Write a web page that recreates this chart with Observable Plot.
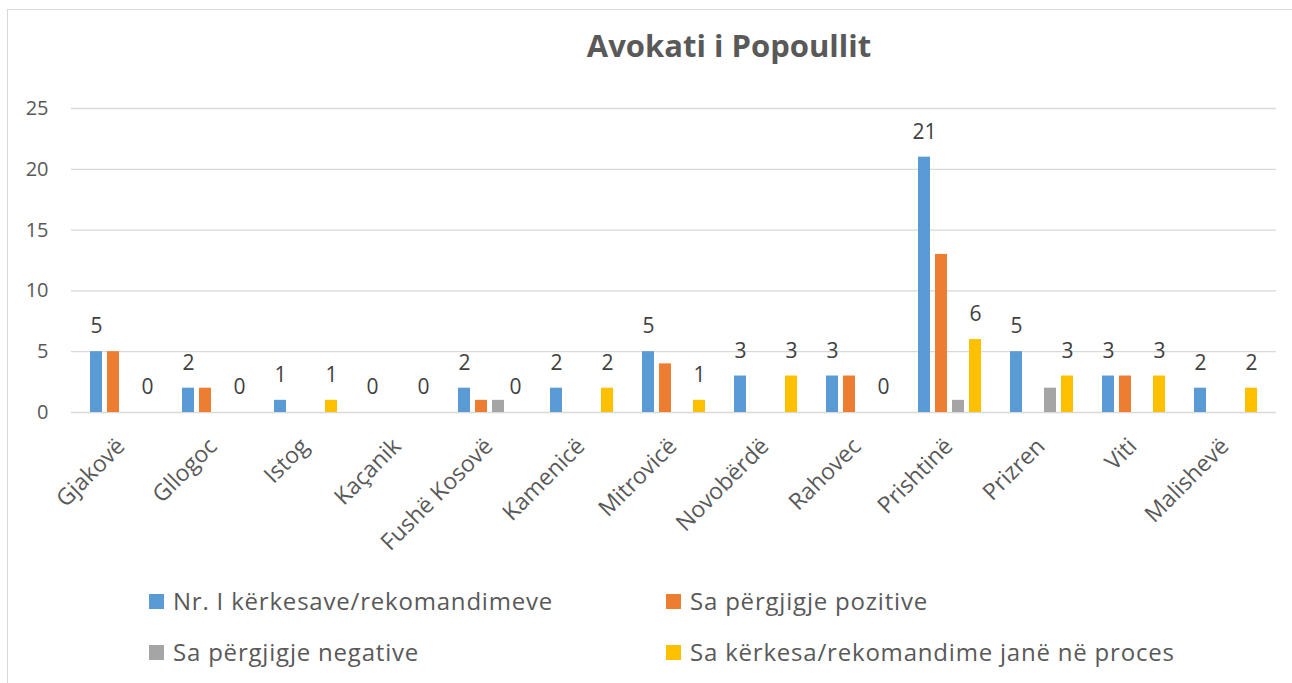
<!DOCTYPE html>
<html>
<head>
<meta charset="utf-8">
<script src="https://cdn.jsdelivr.net/npm/d3@7"></script>
<script src="https://cdn.jsdelivr.net/npm/@observablehq/plot@0.6"></script>
<style>
  html, body { margin: 0; padding: 0; background: #fff; overflow: hidden; }
  #wrap { position: relative; width: 1292px; height: 683px; overflow: hidden; font-family: "Open Sans", sans-serif; color: #595959; }
  #frame { position: absolute; left: 7px; top: 9px; width: 1400px; height: 800px; border: 1.5px solid #d9d9d9; box-sizing: border-box; }
  #title { position: absolute; left: 479px; width: 500px; top: 24px; text-align: center; font-size: 31px; font-weight: 700; line-height: 42px; color: #595959; }
  #chart { position: absolute; left: 0; top: 0; }
  .leg { position: absolute; display: flex; align-items: center; font-size: 24px; letter-spacing: 0.8px; line-height: 30px; color: #595959; white-space: nowrap; }
  .leg span.sw { display: inline-block; width: 15px; height: 15px; margin-right: 9px; }
</style>
</head>
<body>
<div id="wrap">
  <div id="frame"></div>
  <div id="chart"></div>
  <div id="title">Avokati i Popoullit</div>
  <div id="legend"></div>
</div>
<script>
const categories = ["Gjakovë", "Gllogoc", "Istog", "Kaçanik", "Fushë Kosovë", "Kamenicë", "Mitrovicë", "Novobërdë", "Rahovec", "Prishtinë", "Prizren", "Viti", "Malishevë"];
const seriesNames = ["Nr. I kërkesave/rekomandimeve", "Sa përgjigje pozitive", "Sa përgjigje negative", "Sa kërkesa/rekomandime janë në proces"];
const seriesColors = ["#5B9BD5", "#ED7D31", "#A5A5A5", "#FFC000"];
const requests  = [5, 2, 1, 0, 2, 2, 5, 3, 3, 21, 5, 3, 2];
const positive  = [5, 2, 0, 0, 1, 0, 4, 0, 3, 13, 0, 3, 0];
const negative  = [0, 0, 0, 0, 1, 0, 0, 0, 0, 1, 2, 0, 0];
const inProcess = [0, 0, 1, 0, 0, 2, 1, 3, 0, 6, 3, 3, 2];
const yTicks = [0, 5, 10, 15, 20, 25];
const labeledSeries = [0, 3]; // data labels shown on first and last series

const seriesValues = [requests, positive, negative, inProcess];
const rows = [];
seriesValues.forEach((vals, si) => {
  vals.forEach((v, ci) => rows.push({city: categories[ci], series: seriesNames[si], si, value: v}));
});

const W = 1292, H = 560;
const mL = 71, mR = 16, mT = 108, mB = 148;
const groupW = 68, barStep = 17, barW = 13, pad0 = (barStep - barW) / 2;
const stepX = (W - mL - mR) / categories.length;
const pInner = 1 - groupW / stepX;

const marks = [
  Plot.ruleY(yTicks, {stroke: "#d9d9d9", strokeWidth: 1.3})
];
seriesNames.forEach((name, si) => {
  marks.push(Plot.barY(rows.filter(d => d.si === si && d.value > 0), {
    x: "city", y: "value", fill: seriesColors[si],
    insetLeft: pad0 + barStep * si,
    insetRight: groupW - (pad0 + barStep * si + barW)
  }));
});
labeledSeries.forEach(si => {
  marks.push(Plot.text(rows.filter(d => d.si === si), {
    x: "city", y: "value", text: d => String(d.value),
    dx: barStep * si + barStep / 2 - groupW / 2, dy: -25,
    fill: "#404040", fontSize: 21
  }));
});

const chart = Plot.plot({
  width: W, height: H,
  marginLeft: mL, marginRight: mR, marginTop: mT, marginBottom: mB,
  style: {fontFamily: "Open Sans, sans-serif", color: "#595959", background: "transparent"},
  x: {domain: categories, paddingInner: pInner, paddingOuter: pInner / 2, align: 0.5, label: null},
  y: {domain: [0, 25], label: null},
  marks: [
    ...marks,
    Plot.axisY({ticks: yTicks, tickSize: 0, tickPadding: 23, fontSize: 20, fill: "#595959", label: null}),
    Plot.axisX({tickSize: 0, tickRotate: -45, tickPadding: 12, dx: -1, dy: 18, fontSize: 23, fill: "#595959", label: null})
  ]
});
document.getElementById("chart").appendChild(chart);

const legendPos = [[149, 601], [666, 601], [149, 652], [666, 652]];
const legend = document.getElementById("legend");
seriesNames.forEach((name, si) => {
  const el = document.createElement("div");
  el.className = "leg";
  el.style.left = legendPos[si][0] + "px";
  el.style.top = (legendPos[si][1] - 15) + "px";
  el.innerHTML = `<span class="sw" style="background:${seriesColors[si]}"></span><span></span>`;
  el.lastChild.textContent = name;
  legend.appendChild(el);
});
</script>
</body>
</html>
